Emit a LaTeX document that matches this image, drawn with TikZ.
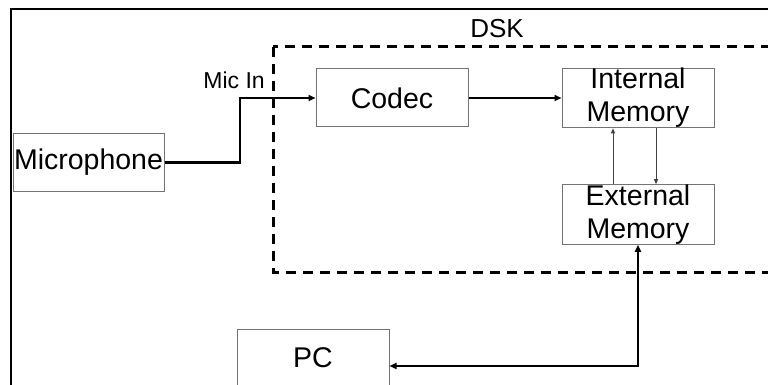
\documentclass[tikz,border=0pt]{standalone}
\usepackage{fontspec}
\setmainfont{Liberation Sans}
\usetikzlibrary{arrows.meta}
\begin{document}
\begin{tikzpicture}[x=1pt,y=-1pt,
  blk/.style={draw=black!55,line width=1pt,rectangle,inner sep=0pt,align=center,
    minimum width=152pt,minimum height=58pt,font=\fontsize{28.5}{33}\selectfont},
  thickcon/.style={draw=black,line width=2.5pt,line join=miter},
  thincon/.style={draw=black!75,line width=1pt},
  tipA/.style={-{Triangle[length=7pt,width=6pt]}},
  tipB/.style={{Triangle[length=7pt,width=6pt]}-{Triangle[length=7pt,width=6pt]}},
  tipS/.style={-{Triangle[length=5pt,width=4pt]}},
  lbl/.style={inner sep=0pt}]
\useasboundingbox (0,0) rectangle (768,385);
\clip (0,0) rectangle (768,385);
\fill[white] (0,0) rectangle (768,385);
% frame
\draw[line width=2.5pt] (11,400) -- (11,9) -- (780,9);
% DSK dashed region
\draw[line width=3pt,dash pattern=on 10pt off 7pt] (273,47) rectangle (790,272);
\node[lbl,font=\fontsize{26}{26}\selectfont,anchor=base] (dsk) at (497,38) {DSK};
% blocks
\node[blk,minimum width=151pt,minimum height=57pt] (mic) at (88.5,162.5) {Microphone};
\node[blk] (codec) at (392,98) {Codec};
\node[blk] (imem) at (638,98) {Internal\\Memory};
\node[blk,minimum height=57pt] (emem) at (638,214.5) {External\\Memory};
\node[blk] (pc) at (313,358) {PC};
\node[lbl,font=\fontsize{23}{23}\selectfont,anchor=base east] (micin) at (265,89) {Mic In};
% connectors
\coordinate (m1) at (240,162.5);
\coordinate (m2) at (240,98);
\draw[thickcon,tipA] (mic.east) -- (m1) -- (m2) -- (codec.west);
\draw[thickcon,tipA] (codec.east) -- (imem.west);
\draw[thincon,tipS] (emem.north -| 613,0) -- (imem.south -| 613,0);
\draw[thincon,tipS] (imem.south -| 656,0) -- (emem.north -| 656,0);
\coordinate (p1) at (638,366);
\draw[thickcon,tipB] (emem.south) -- (p1) -- (pc.east |- p1);
\end{tikzpicture}
\end{document}
